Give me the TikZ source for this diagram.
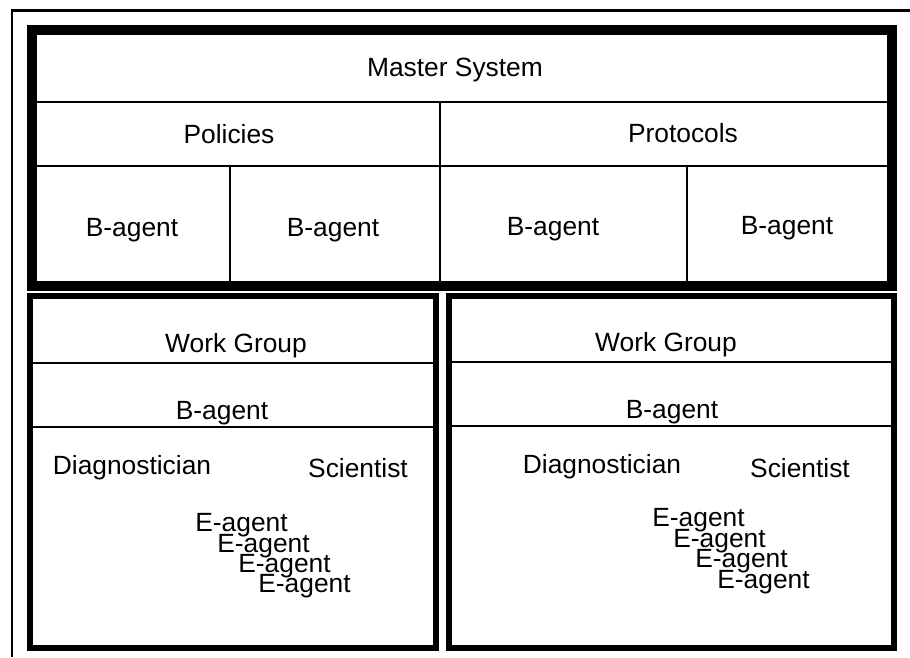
\documentclass[tikz,border=0pt]{standalone}
\usepackage{fontspec}
\setmainfont{Liberation Sans}
\usetikzlibrary{positioning}

\tikzset{
  lbl/.style={font=\fontsize{15}{17}\selectfont, inner sep=0pt},
  thinrule/.style={line width=1.6pt},
  groupbox/.style={line width=2.9pt},
  masterbox/.style={line width=5.8pt}
}

\begin{document}
\begin{tikzpicture}[x=0.02cm, y=-0.02cm]

\useasboundingbox (0,0) rectangle (910,657);

% outer frame, cut at right and bottom
\draw[line width=1.7pt] (12,657)--(12,10)--(910,10);


\begin{scope}

% master system block
\draw[masterbox] (32,30) rectangle (892,286);

\draw[thinrule] (37,102)--(887,102);
\draw[thinrule] (37,166)--(887,166);
\draw[thinrule] (440,102)--(440,281);
\draw[thinrule] (230,166)--(230,281);
\draw[thinrule] (687,166)--(687,281);

\node[lbl] (master) at (455,70) {Master System};
\node[lbl] (policies) at (229,134) {Policies};
\node[lbl] (protocols) at (683,133) {Protocols};

\node[lbl] (ba1) at (132,230) {B-agent};
\node[lbl] (ba2) at (333,230) {B-agent};
\node[lbl] (ba3) at (553,229) {B-agent};
\node[lbl] (ba4) at (787,228) {B-agent};

\end{scope}


\begin{scope}

% left work group
\draw[groupbox] (30,296) rectangle (436,648);
\draw[thinrule] (31,363)--(435,363);
\draw[thinrule] (31,427)--(435,427);

\node[lbl] (wg1) at (236,346) {Work Group};
\node[lbl] (wba1) at (222,413) {B-agent};
\node[lbl] (diag1) at (132,468) {Diagnostician};
\node[lbl] (sci1) at (358,468) {Scientist};

\node[lbl, anchor=west] (ea11) at (195,525) {E-agent};
\node[lbl, anchor=west] (ea12) at (217,546) {E-agent};
\node[lbl, anchor=west] (ea13) at (238,566) {E-agent};
\node[lbl, anchor=west] (ea14) at (258,586) {E-agent};

\end{scope}


\begin{scope}

% right work group
\draw[groupbox] (449,296) rectangle (894,648);
\draw[thinrule] (450,362)--(893,362);
\draw[thinrule] (450,426)--(893,426);

\node[lbl] (wg2) at (666,345) {Work Group};
\node[lbl] (wba2) at (672,412) {B-agent};
\node[lbl] (diag2) at (602,467) {Diagnostician};
\node[lbl] (sci2) at (800,468) {Scientist};

\node[lbl, anchor=west] (ea21) at (652,520) {E-agent};
\node[lbl, anchor=west] (ea22) at (673,541) {E-agent};
\node[lbl, anchor=west] (ea23) at (695,561) {E-agent};
\node[lbl, anchor=west] (ea24) at (717,582) {E-agent};

\end{scope}


\end{tikzpicture}
\end{document}
